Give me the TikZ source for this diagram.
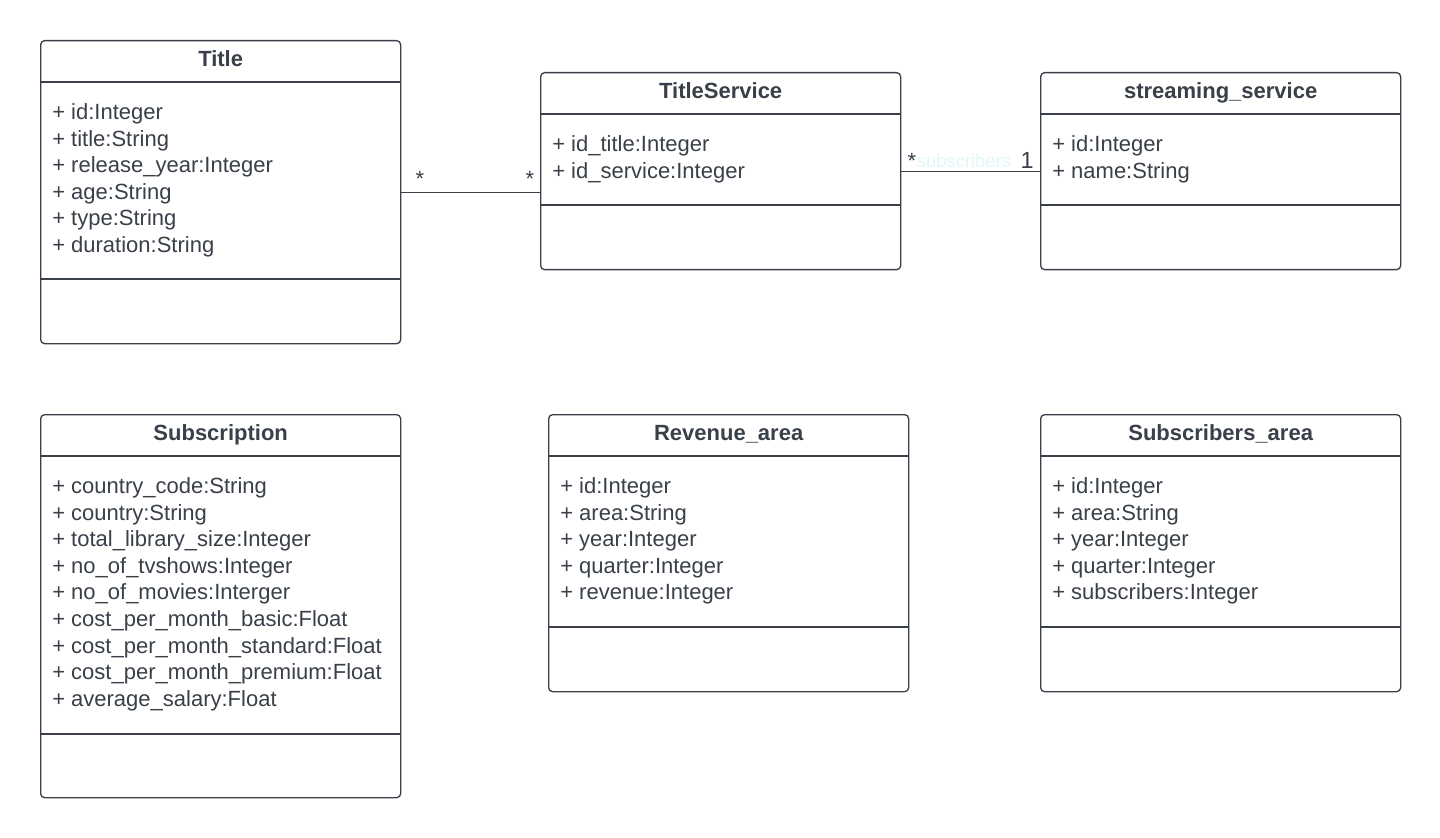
\documentclass[tikz,border=0pt]{standalone}
\usepackage{fontspec}
\setmainfont{Liberation Sans}
\definecolor{ink}{HTML}{394049}
\definecolor{faint}{HTML}{E0F8F8}

\tikzset{
  classbox/.style={draw=ink, line width=1pt, rounded corners=3pt, inner sep=0pt,
                   anchor=north west, fill=white},
  divider/.style={draw=ink, line width=0.9pt},
  header/.style={font=\fontsize{16.5}{20}\selectfont\bfseries, text=ink, inner sep=0pt, anchor=base},
  attr/.style={font=\fontsize{16.5}{20}\selectfont, text=ink, inner sep=0pt, anchor=base west},
  assoc/.style={draw=ink, line width=0.9pt},
  mult/.style={font=\fontsize{16.5}{20}\selectfont, text=ink, inner sep=0pt, anchor=base},
  rolename/.style={font=\fontsize{13.8}{16}\selectfont, text=faint, inner sep=0pt, anchor=base},
}

% \umlclass{name}{left}{top}{width}{height}{header height}{operations divider}{title}{attributes}
\newcommand\umlclass[9]{%
  \node[classbox, minimum width=#4*0.75pt, minimum height=#5*0.75pt] (#1) at (#2,#3) {};
  \draw[divider] ([yshift=-#6*0.75pt]#1.north west) -- ([yshift=-#6*0.75pt]#1.north east);
  \draw[divider] ([yshift=-#7*0.75pt]#1.north west) -- ([yshift=-#7*0.75pt]#1.north east);
  \node[header] (#1-head) at ([yshift=-26.5*0.75pt]#1.north) {#8};
  \foreach \attr [count=\i] in {#9}
    \node[attr] (#1-a\i) at ([xshift=12*0.75pt, yshift=-(#6+37.5+(\i-1)*26.6)*0.75pt]#1.north west) {\attr};
}

\begin{document}
\begin{tikzpicture}[x=0.75pt, y=-0.75pt]
  \useasboundingbox (0,0) rectangle (1440,838);

  \umlclass{title}{40}{40}{360}{303}{42}{239}{Title}
    {+ id:Integer, + title:String, + release\_year:Integer, + age:String, + type:String, + duration:String}
  \umlclass{titleservice}{540}{72}{360}{197}{42}{133}{TitleService}
    {+ id\_title:Integer, + id\_service:Integer}
  \umlclass{streaming}{1040}{72}{360}{197}{42}{133}{streaming\_service}
    {+ id:Integer, + name:String}
  \umlclass{subscription}{40}{414}{360}{383}{42}{320}{Subscription}
    {+ country\_code:String, + country:String, + total\_library\_size:Integer, + no\_of\_tvshows:Integer,
     + no\_of\_movies:Interger, + cost\_per\_month\_basic:Float, + cost\_per\_month\_standard:Float,
     + cost\_per\_month\_premium:Float, + average\_salary:Float}
  \umlclass{revenue}{548}{414}{360}{277}{42}{213}{Revenue\_area}
    {+ id:Integer, + area:String, + year:Integer, + quarter:Integer, + revenue:Integer}
  \umlclass{subscribers}{1040}{414}{360}{277}{42}{213}{Subscribers\_area}
    {+ id:Integer, + area:String, + year:Integer, + quarter:Integer, + subscribers:Integer}

  % associations
  \draw[assoc] (title.east) -- (titleservice.west |- title.east);
  \node[mult] (m1) at (420,187) {*};
  \node[mult] (m2) at (530,187) {*};

  \draw[assoc] (titleservice.east) -- (streaming.west);
  \node[mult] (m3) at (912,169) {*};
  \node[rolename] (r1) at (964,168) {subscribers};
  \node[mult, font=\fontsize{17.5}{20}\selectfont] (m4) at (1027,169) {1};
\end{tikzpicture}
\end{document}
